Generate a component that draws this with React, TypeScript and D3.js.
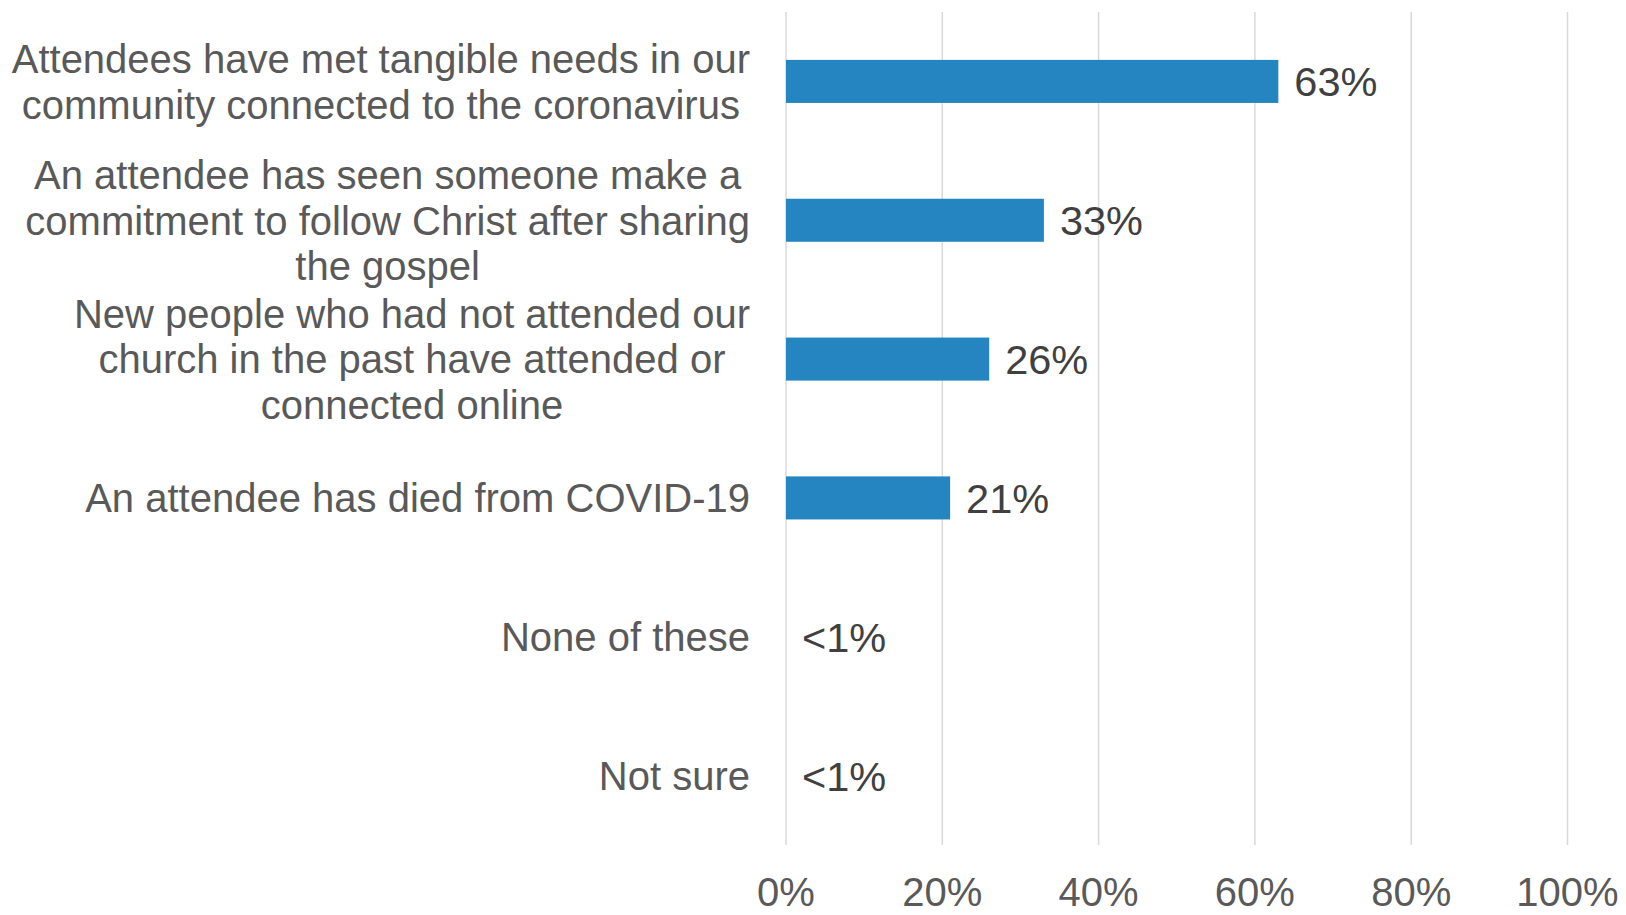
import React from "react";
import * as d3 from "d3";

const categories: string[][] = [
  ["Attendees have met tangible needs in our", "community connected to the coronavirus"],
  ["An attendee has seen someone make a", "commitment to follow Christ after sharing", "the gospel"],
  ["New people who had not attended our", "church in the past have attended or", "connected online"],
  ["An attendee has died from COVID-19"],
  ["None of these"],
  ["Not sure"],
];
const values: number[] = [63, 33, 26, 21, 0, 0];
const valueLabels: string[] = ["63%", "33%", "26%", "21%", "<1%", "<1%"];
const ticks: number[] = [0, 20, 40, 60, 80, 100];

const W = 1626;
const H = 915;
const FONT = "'Liberation Sans', Arial, sans-serif";
const CAT_SIZE = 40;
const VAL_SIZE = 41.5;
const TICK_SIZE = 40;
const LINE_H = 45.6;

function measure(text: string, size: number): number {
  const c = document.createElement("canvas").getContext("2d");
  if (!c) return text.length * size * 0.5;
  c.font = `${size}px 'Liberation Sans', Arial, sans-serif`;
  return c.measureText(text).width;
}

export default function App() {
  const ids = categories.map((_, i) => String(i));
  const x = d3.scaleLinear().domain([0, 100]).range([786, 1567.5]);
  const y = d3.scaleBand<string>().domain(ids).range([12, 845]).paddingInner(0.69).paddingOuter(0.345);
  const labelRight = 750;

  return (
    <svg width={W} height={H} style={{ position: "absolute", left: 0, top: 0, background: "#fff" }}>
      {ticks.map((t) => (
        <line key={"g" + t} x1={x(t)} x2={x(t)} y1={12} y2={845} stroke="#D9D9D9" strokeWidth={1.5} />
      ))}
      {values.map((v, i) => (
        <rect key={"b" + i} x={x(0)} y={y(ids[i])!} width={x(v) - x(0)} height={y.bandwidth()} fill="#2585C0" />
      ))}
      {values.map((v, i) => (
        <text
          key={"v" + i}
          x={x(v) + 16}
          y={y(ids[i])! + y.bandwidth() / 2}
          dy="0.36em"
          fontFamily={FONT}
          fontSize={VAL_SIZE}
          fill="#404040"
        >
          {valueLabels[i]}
        </text>
      ))}
      {categories.map((lines, i) => {
        const maxW = Math.max(...lines.map((l) => measure(l, CAT_SIZE)));
        const cx = labelRight - maxW / 2;
        const cy = y(ids[i])! + y.bandwidth() / 2;
        const startY = cy - ((lines.length - 1) * LINE_H) / 2;
        return (
          <text key={"c" + i} fontFamily={FONT} fontSize={CAT_SIZE} fill="#595959" textAnchor="middle">
            {lines.map((l, j) => (
              <tspan key={j} x={cx} y={startY + j * LINE_H} dy="0.36em">
                {l}
              </tspan>
            ))}
          </text>
        );
      })}
      {ticks.map((t) => (
        <text
          key={"t" + t}
          x={x(t)}
          y={906}
          textAnchor="middle"
          fontFamily={FONT}
          fontSize={TICK_SIZE}
          fill="#595959"
        >
          {t + "%"}
        </text>
      ))}
    </svg>
  );
}
